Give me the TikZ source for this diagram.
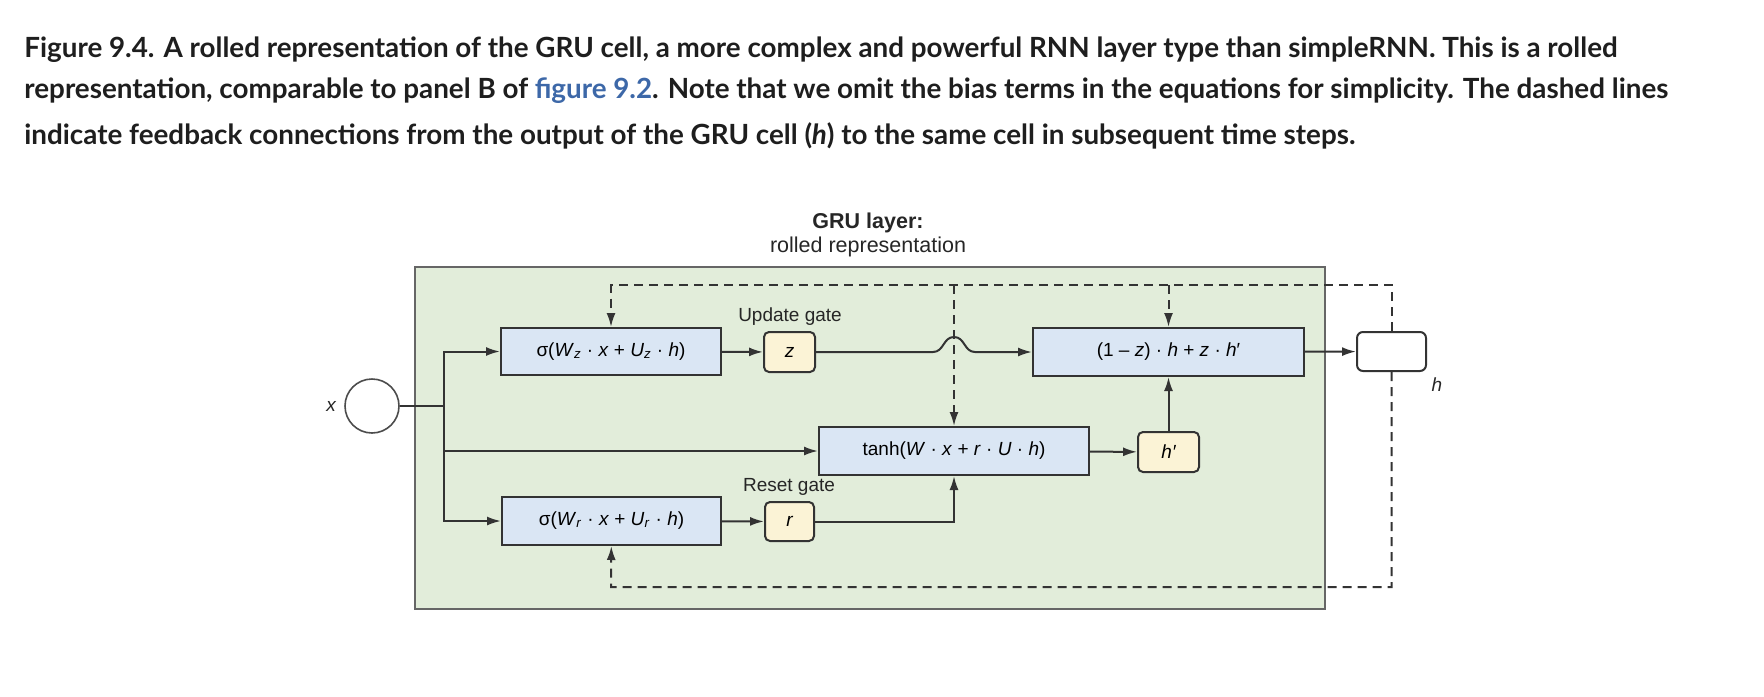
\documentclass[tikz,border=0pt]{standalone}
\usepackage{fontspec}
\setmainfont{Lato}
\newfontfamily\diagfont{Liberation Sans}
\usetikzlibrary{arrows.meta}
\definecolor{panelgreen}{HTML}{E2EDDA}
\definecolor{boxblue}{HTML}{DAE6F4}
\definecolor{gateyellow}{HTML}{FBF3D6}
\definecolor{linegray}{HTML}{333333}
\definecolor{capblack}{HTML}{1E1E1E}
\definecolor{linkblue}{HTML}{3D68A8}
\begin{document}
\begin{tikzpicture}[x=0.5pt,y=-0.5pt,
  box/.style={draw=linegray,line width=1pt,fill=boxblue,inner sep=0pt,font=\diagfont\fontsize{9.5}{11}\selectfont},
  gate/.style={draw=linegray,line width=1pt,fill=gateyellow,rounded corners=2.5pt,inner sep=0pt,font=\diagfont\fontsize{9.5}{11}\selectfont\itshape},
  arr/.style={draw=linegray,line width=1pt,-{Latex[length=7pt,width=4.5pt]}},
  dsh/.style={arr,dash pattern=on 4.5pt off 3pt},
  lbl/.style={font=\diagfont\fontsize{9.5}{11}\selectfont,text=black!85},
  capline/.style={anchor=base west,inner sep=0pt,text=capblack,font=\bfseries\fontsize{13.9}{16}\selectfont}]
  \useasboundingbox (0,0) rectangle (1764,696);

  \node[capline] (cap1) at (24,57) {Figure 9.4. A rolled representation of the GRU cell, a more complex and powerful RNN layer type than simpleRNN. This is a rolled};
  \node[capline] (cap2) at (24,98) {representation, comparable to panel B of {\color{linkblue}figure 9.2}. Note that we omit the bias terms in the equations for simplicity. The dashed lines};
  \node[capline] (cap3) at (24,144) {indicate feedback connections from the output of the GRU cell (\textit{h}) to the same cell in subsequent time steps.};

  \node[font=\diagfont\fontsize{10.75}{12}\selectfont,align=center,text=black!85] (title) at (868,235) {\textbf{GRU layer:}\\rolled representation};

  \draw[draw=black!60,line width=1pt,fill=panelgreen] (415,267) rectangle (1325,609);

  \node[draw=black!70,line width=0.8pt,fill=white,circle,minimum size=27pt,inner sep=0pt] (xin) at (372,406) {};
  \node[lbl,font=\diagfont\fontsize{9.5}{11}\selectfont\itshape] (xlbl) at (331,406) {x};
  \coordinate (br) at (444,406);

  \node[box,minimum width=110pt,minimum height=23.5pt] (sz) at (611,351.5) {σ(\textit{W}\textsubscript{\textit{z}} · \textit{x} + \textit{U}\textsubscript{\textit{z}} · \textit{h})};
  \node[box,minimum width=109.5pt,minimum height=24pt] (sr) at (611.5,521) {σ(\textit{W}\textsubscript{\textit{r}} · \textit{x} + \textit{U}\textsubscript{\textit{r}} · \textit{h})};
  \node[gate,minimum width=25.5pt,minimum height=20pt] (z) at (789.5,352) {z};
  \node[gate,minimum width=24.5pt,minimum height=19.5pt] (r) at (789.5,521.5) {r};
  \node[lbl] (uplbl) at (790,317) {Update gate};
  \node[lbl] (rslbl) at (789,487) {Reset gate};
  \node[box,minimum width=135pt,minimum height=24pt] (th) at (954,451) {tanh(\textit{W} · \textit{x} + \textit{r} · \textit{U} · \textit{h})};
  \node[gate,minimum width=30.5pt,minimum height=20pt] (hp) at (1168.5,452) {h′};
  \node[box,minimum width=135.5pt,minimum height=24pt] (cb) at (1168.5,352) {(1 – \textit{z}) · \textit{h} + \textit{z} · \textit{h}′};
  \node[draw=linegray,line width=1pt,fill=white,rounded corners=3pt,minimum width=34.5pt,minimum height=19.5pt,inner sep=0pt] (out) at (1391.5,351.5) {};
  \node[lbl,font=\diagfont\fontsize{9.5}{11}\selectfont\itshape] (hlbl) at (1437,385) {h};
  \coordinate (ft) at (611,285);
  \coordinate (fb) at (611,587);

  \draw[draw=linegray,line width=1pt] (xin) -- (br);
  \draw[arr] (br) |- (sz);
  \draw[arr] (br) |- (sr);
  \draw[arr] (br |- th) -- (th);
  \draw[arr] (sz) -- (z);
  \draw[arr] (sr) -- (r);
  \draw[arr] (z) -- (933,352) .. controls (944,352) and (943,337) .. (954,337)
    .. controls (965,337) and (964,352) .. (975,352) -- (cb);
  \draw[arr] (r) -| (th);
  \draw[arr] (th) -- (hp);
  \draw[arr] (hp) -- (cb);
  \draw[arr] (cb) -- (out);

  \draw[dsh] (out.north) |- (ft) -- (sz);
  \draw[dsh] (out.south) |- (fb) -- (sr);
  \draw[dsh] (th |- ft) -- (th);
  \draw[dsh] (cb |- ft) -- (cb);
\end{tikzpicture}
\end{document}
